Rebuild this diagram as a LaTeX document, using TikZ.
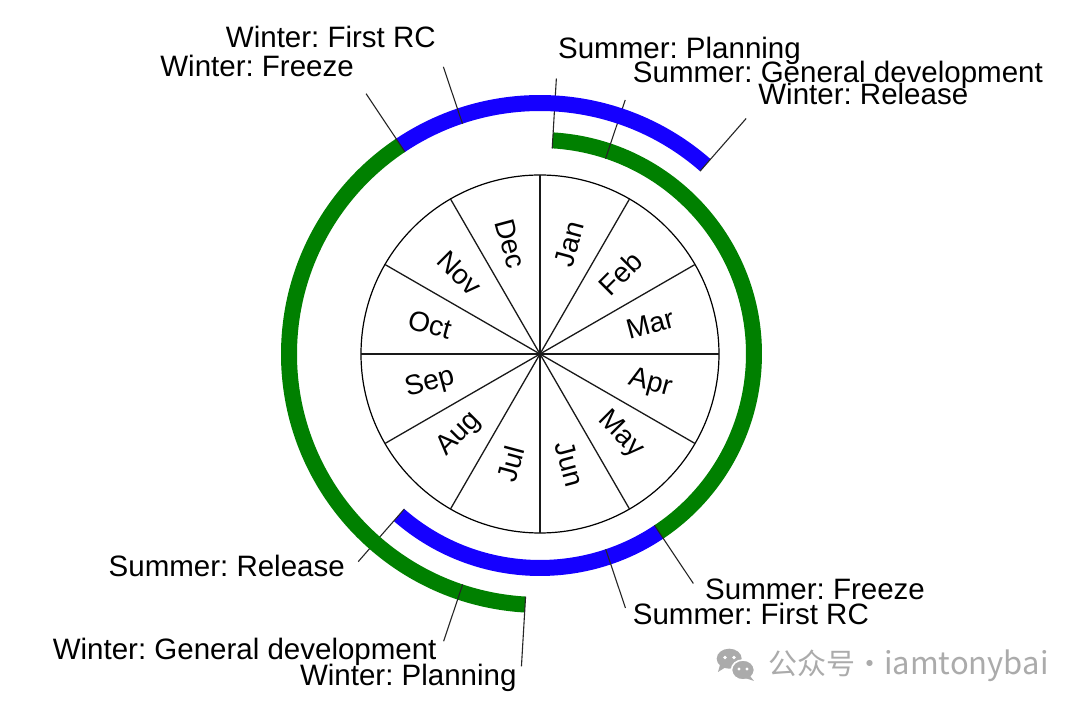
\documentclass[tikz,border=0pt]{standalone}
\usepackage{fontspec}
\setsansfont{Liberation Sans}
\newfontfamily\cjkfont{Noto Sans CJK SC}
\usetikzlibrary{calc}
\frenchspacing
\definecolor{devgreen}{HTML}{008000}
\definecolor{frzblue}{HTML}{1500FF}
\definecolor{markgray}{HTML}{ABABAB}
\tikzset{
  ring/.style={draw=#1, line width=16pt},
  ring/.default=devgreen,
  leader/.style={draw=black!85, line width=1.1pt},
  spoke/.style={draw=black!90, line width=1.3pt},
  monthlabel/.style={font=\sffamily\fontsize{28}{32}\selectfont,
    inner sep=0pt, anchor=center},
  milestone/.style={font=\sffamily\fontsize{29.5}{34}\selectfont,
    inner sep=0pt},
}

\begin{document}
\begin{tikzpicture}
  \fill[white] (-540pt,-357pt) rectangle (540pt,354pt);
  \useasboundingbox (-540pt,-357pt) rectangle (540pt,354pt);

  % month wheel
  \coordinate (hub) at (0,0);
  \draw[line width=1.2pt] (hub) circle[radius=179pt];
  \draw[spoke] (90:179pt) -- (-90:179pt);
  \draw[spoke] (60:179pt) -- (-120:179pt);
  \draw[spoke] (30:179pt) -- (-150:179pt);
  \draw[spoke] (0:179pt) -- (180:179pt);
  \draw[spoke] (-30:179pt) -- (150:179pt);
  \draw[spoke] (-60:179pt) -- (120:179pt);
  \node[monthlabel, rotate=75] at (75:114pt) (jan) {Jan};
  \node[monthlabel, rotate=45] at (45:114pt) (feb) {Feb};
  \node[monthlabel, rotate=15] at (15:114pt) (mar) {Mar};
  \node[monthlabel, rotate=-15] at (-15:114pt) (apr) {Apr};
  \node[monthlabel, rotate=-45] at (-45:114pt) (may) {May};
  \node[monthlabel, rotate=-75] at (-75:114pt) (jun) {Jun};
  \node[monthlabel, rotate=75] at (-105:114pt) (jul) {Jul};
  \node[monthlabel, rotate=45] at (-135:114pt) (aug) {Aug};
  \node[monthlabel, rotate=15] at (-165:114pt) (sep) {Sep};
  \node[monthlabel, rotate=-15] at (165:114pt) (oct) {Oct};
  \node[monthlabel, rotate=-45] at (135:114pt) (nov) {Nov};
  \node[monthlabel, rotate=-75] at (105:114pt) (dec) {Dec};

  % summer cycle, inner ring
  \draw[ring=devgreen] (86.6:214pt) arc[start angle=86.6, end angle=-56.25, radius=214pt];
  \draw[ring=frzblue] (-56.25:214pt) arc[start angle=-56.25, end angle=-131.2, radius=214pt];
  \coordinate (splan-in) at (86.6:206pt);
  \coordinate (splan-out) at (86.6:276pt);
  \coordinate (sdev-in) at (71.45:206pt);
  \coordinate (sdev-out) at (71.45:268pt);
  \coordinate (sfrz-in) at (-56.25:206pt);
  \coordinate (sfrz-out) at (-56.25:276pt);
  \coordinate (src-in) at (-71.4:206pt);
  \coordinate (src-out) at (-71.4:268pt);
  \coordinate (srel-in) at (-131.2:206pt);
  \coordinate (srel-out) at (-131.2:276pt);
  \draw[leader] (splan-in) -- (splan-out);
  \draw[leader] (sdev-in) -- (sdev-out);
  \draw[leader] (sfrz-in) -- (sfrz-out);
  \draw[leader] (src-in) -- (src-out);
  \draw[leader] (srel-in) -- (srel-out);
  \node[milestone, anchor=base west] at ([xshift=1.6pt, yshift=20.2pt]splan-out) (splan) {Summer: Planning};
  \node[milestone, anchor=base west] at ([xshift=7.5pt, yshift=17.5pt]sdev-out) (sdev) {Summer: General development};
  \node[milestone, anchor=base west] at ([xshift=11.7pt, yshift=-16.5pt]sfrz-out) (sfrz) {Summer: Freeze};
  \node[milestone, anchor=base west] at ([xshift=7.2pt, yshift=-17pt]src-out) (src) {Summer: First RC};
  \node[milestone, anchor=base east] at ([xshift=-13.2pt, yshift=-15pt]srel-out) (srel) {Summer: Release};

  % winter cycle, outer ring
  \draw[ring=devgreen] (266.6:251pt) arc[start angle=266.6, end angle=123.75, radius=251pt];
  \draw[ring=frzblue] (123.75:251pt) arc[start angle=123.75, end angle=48.8, radius=251pt];
  \coordinate (wplan-in) at (266.6:243pt);
  \coordinate (wplan-out) at (266.6:313pt);
  \coordinate (wdev-in) at (251.45:243pt);
  \coordinate (wdev-out) at (251.45:303pt);
  \coordinate (wfrz-in) at (123.75:243pt);
  \coordinate (wfrz-out) at (123.75:313pt);
  \coordinate (wrc-in) at (108.6:243pt);
  \coordinate (wrc-out) at (108.6:303pt);
  \coordinate (wrel-in) at (48.8:243pt);
  \coordinate (wrel-out) at (48.8:313pt);
  \draw[leader] (wplan-in) -- (wplan-out);
  \draw[leader] (wdev-in) -- (wdev-out);
  \draw[leader] (wfrz-in) -- (wfrz-out);
  \draw[leader] (wrc-in) -- (wrc-out);
  \draw[leader] (wrel-in) -- (wrel-out);
  \node[milestone, anchor=base east] at ([xshift=-4.7pt, yshift=-18.6pt]wplan-out) (wplan) {Winter: Planning};
  \node[milestone, anchor=base east] at ([xshift=-6.9pt, yshift=-18.1pt]wdev-out) (wdev) {Winter: General development};
  \node[milestone, anchor=base east] at ([xshift=-12.1pt, yshift=17pt]wfrz-out) (wfrz) {Winter: Freeze};
  \node[milestone, anchor=base east] at ([xshift=-7.4pt, yshift=19.5pt]wrc-out) (wrc) {Winter: First RC};
  \node[milestone, anchor=base west] at ([xshift=12pt, yshift=14.2pt]wrel-out) (wrel) {Winter: Release};

  % watermark
  \fill[markgray] (189.2pt,-304.7pt) ellipse[x radius=12.5pt, y radius=10pt];
  \fill[markgray] (180pt,-311pt) -- (178pt,-318pt) -- (186pt,-313pt) -- cycle;
  \fill[white] (185pt,-303.5pt) circle[radius=1.9pt];
  \fill[white] (194pt,-303.5pt) circle[radius=1.9pt];
  \fill[markgray, draw=white, line width=1.6pt] (203pt,-316pt) ellipse[x radius=11.5pt, y radius=10pt];
  \fill[markgray] (210pt,-322pt) -- (214pt,-327pt) -- (205pt,-324pt) -- cycle;
  \fill[white] (199pt,-315pt) circle[radius=1.7pt];
  \fill[white] (207pt,-315pt) circle[radius=1.7pt];
  \node[font=\cjkfont\fontsize{29}{34}\selectfont, text=markgray, anchor=west, inner sep=0pt]
    at (228pt,-312pt) (mark) {公众号·{\fontsize{31}{34}\selectfont iamtonybai}};
\end{tikzpicture}
\end{document}
